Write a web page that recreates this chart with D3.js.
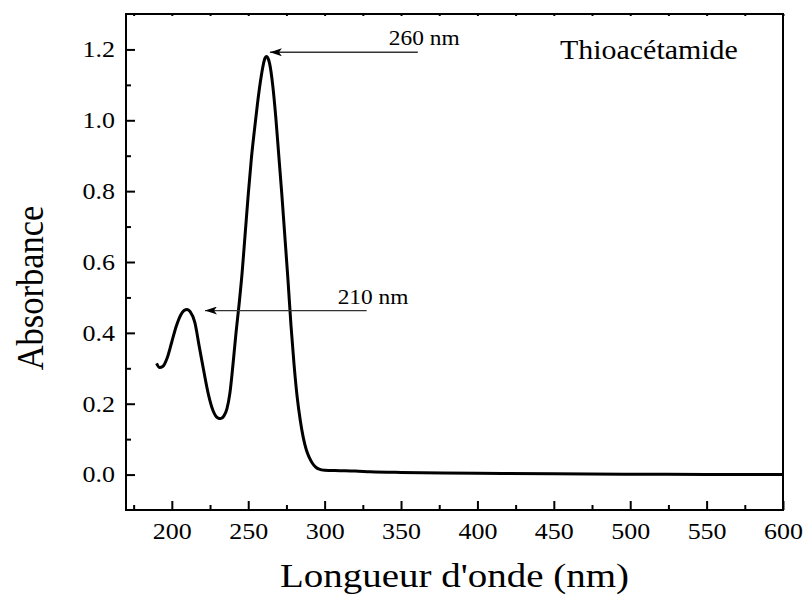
<!DOCTYPE html>
<html>
<head>
<meta charset="utf-8">
<script src="https://cdn.jsdelivr.net/npm/d3@7"></script>
<style>
  body { margin: 0; background: #fff; }
  svg text { font-family: "Times New Roman", "Liberation Serif", Tinos, serif; fill: #000; }
</style>
</head>
<body>
<div id="chart"></div>
<script>
// spectrum (nm, absorbance)
var wavelength = [190, 192, 194, 197, 200, 203, 206, 208, 210, 212, 215, 218, 221, 224, 227, 230, 232, 234, 236, 238,
                  240, 242, 244, 246, 248, 250, 252, 254, 256, 258, 260, 261, 262, 264, 266, 268, 270, 272, 274, 276,
                  278, 280, 282, 284, 286, 288, 290, 292, 294, 296, 300, 310, 320, 330, 350, 400, 450, 500, 550, 600];
var absorbance = [0.314, 0.302, 0.305, 0.33, 0.375, 0.42, 0.452, 0.463, 0.466, 0.46, 0.43, 0.36, 0.29, 0.225, 0.18, 0.16, 0.158, 0.165, 0.185, 0.23,
                  0.31, 0.40, 0.48, 0.57, 0.68, 0.79, 0.89, 0.97, 1.045, 1.11, 1.16, 1.176, 1.18, 1.16, 1.10, 1.01, 0.90, 0.79, 0.67, 0.55,
                  0.42, 0.31, 0.22, 0.155, 0.105, 0.07, 0.048, 0.032, 0.022, 0.016, 0.012, 0.011, 0.01, 0.008, 0.006, 0.004, 0.002, 0.001, 0.0005, 0];

var xTicks = [200, 250, 300, 350, 400, 450, 500, 550, 600];
var xMinor = [175, 225, 275, 325, 375, 425, 475, 525, 575];
var yTicks = [0, 0.2, 0.4, 0.6, 0.8, 1.0, 1.2];
var yMinor = [0.1, 0.3, 0.5, 0.7, 0.9, 1.1];

var peakLabels = ["260 nm", "210 nm"];
var arrowFrom = [361, 327.5];   // nm
var arrowTo = [264.2, 221.7];   // nm
var arrowLevel = [1.192, 0.463];

var sampleName = "Thioacétamide";
var xTitle = "Longueur d'onde (nm)";
var yTitle = "Absorbance";

var W = 808, H = 606;
var stretch = 1.13; // the source picture is a bit wider than tall
var font = "'Times New Roman', 'Liberation Serif', Tinos, serif";
var margin = {top: 14, right: 25, bottom: 96, left: 126};
var width = W - margin.left - margin.right,
    height = H - margin.top - margin.bottom;

var svg = d3.select("#chart").append("svg")
    .attr("width", W)
    .attr("height", H);

var g = svg.append("g").attr("transform", "translate(" + margin.left + "," + margin.top + ")");

var x = d3.scaleLinear().domain([170, 600]).range([0, width]);
var y = d3.scaleLinear().domain([-0.1, 1.3]).range([height, 0]);

function styleAxis(sel) {
  sel.attr("font-family", font);
  sel.select(".domain").remove();
  sel.selectAll(".tick line").attr("stroke", "#000").attr("stroke-width", 2);
}

// minor ticks first
g.append("g").attr("transform", "translate(0," + height + ")")
  .call(d3.axisBottom(x).tickValues(xMinor).tickSize(-5).tickFormat(""))
  .call(styleAxis);
g.append("g")
  .call(d3.axisLeft(y).tickValues(yMinor).tickSize(-5).tickFormat(""))
  .call(styleAxis);
// tiny ticks on top edge
g.append("g")
  .call(d3.axisTop(x).tickValues(xTicks.concat(xMinor)).tickSize(-2).tickFormat(""))
  .call(styleAxis);

var xAxis = g.append("g").attr("transform", "translate(0," + height + ")")
  .call(d3.axisBottom(x).tickValues(xTicks).tickSize(-9).tickPadding(13).tickFormat(d3.format("d")))
  .call(styleAxis);
xAxis.selectAll(".tick text")
  .attr("font-size", 23)
  .attr("transform", "scale(" + stretch + ",1)");

var yAxis = g.append("g")
  .call(d3.axisLeft(y).tickValues(yTicks).tickSize(-9).tickPadding(11 / stretch).tickFormat(d3.format(".1f")))
  .call(styleAxis);
yAxis.selectAll(".tick text")
  .attr("font-size", 23)
  .attr("transform", "scale(" + stretch + ",1)");

// frame
g.append("rect")
  .attr("x", 0).attr("y", 0)
  .attr("width", width).attr("height", height)
  .attr("fill", "none")
  .attr("stroke", "#000")
  .attr("stroke-width", 2);

// spectrum
var line = d3.line()
  .x(function(d, i) { return x(wavelength[i]); })
  .y(function(d) { return y(d); })
  .curve(d3.curveMonotoneX);

g.append("path")
  .datum(absorbance)
  .attr("d", line)
  .attr("fill", "none")
  .attr("stroke", "#000")
  .attr("stroke-width", 3)
  .attr("stroke-linejoin", "round");

// arrows to the peaks
svg.append("defs").append("marker")
  .attr("id", "head")
  .attr("viewBox", "0 0 12 8")
  .attr("refX", 12).attr("refY", 4)
  .attr("markerWidth", 12).attr("markerHeight", 8)
  .attr("markerUnits", "userSpaceOnUse")
  .attr("orient", "auto")
  .append("path")
  .attr("d", "M0,0 L12,4 L0,8 L3,4 Z")
  .attr("fill", "#000");

peakLabels.forEach(function(label, i) {
  var yy = y(arrowLevel[i]);
  g.append("line")
    .attr("x1", x(arrowFrom[i])).attr("y1", yy)
    .attr("x2", x(arrowTo[i])).attr("y2", yy)
    .attr("stroke", "#333")
    .attr("stroke-width", 1.3)
    .attr("marker-end", "url(#head)");
  g.append("text")
    .attr("transform", "translate(" + (x(arrowFrom[i]) - 29) + "," + (yy - 7) + ") scale(" + stretch + ",1)")
    .attr("font-size", 20.7)
    .text(label);
});

// sample name
svg.append("text")
  .attr("transform", "translate(560,59) scale(" + stretch + ",1)")
  .attr("font-size", 26.5)
  .text(sampleName);

// axis titles
svg.append("text")
  .attr("transform", "translate(" + (margin.left + width / 2) + ",587) scale(" + stretch + ",1)")
  .attr("text-anchor", "middle")
  .attr("font-size", 34.5)
  .text(xTitle);

svg.append("text")
  .attr("transform", "translate(43,288) scale(" + stretch + ",1) rotate(-90)")
  .attr("text-anchor", "middle")
  .attr("font-size", 34.5)
  .text(yTitle);
</script>
</body>
</html>
